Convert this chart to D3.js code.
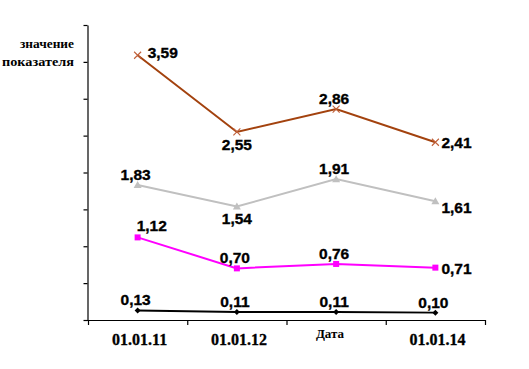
<!DOCTYPE html>
<html>
<head>
<meta charset="utf-8">
<script src="https://cdn.jsdelivr.net/npm/d3@7"></script>
<style>
html,body{margin:0;padding:0;background:#fff;}
svg{display:block;}
</style>
</head>
<body>
<svg id="chart" width="529" height="369"></svg>
<script>
// ---- data ----
const categories = ["01.01.11", "01.01.12", "01.01.13", "01.01.14"];
const tickLabels = ["01.01.11", "01.01.12", "", "01.01.14"];
const seriesBrown = [3.59, 2.55, 2.86, 2.41];
const seriesGray = [1.83, 1.54, 1.91, 1.61];
const seriesMagenta = [1.12, 0.70, 0.76, 0.71];
const seriesBlack = [0.13, 0.11, 0.11, 0.10];
const yTicks = [0, 0.5, 1, 1.5, 2, 2.5, 3, 3.5, 4];
const yTitle = ["значение", "показателя"];
const xTitle = "Дата";

// label placement per point (style, not data)
const placeBrown = ["rt", "b", "a", "r"];
const placeGray = ["a", "b", "a", "rb"];
const placeMagenta = ["ar", "a", "a", "r"];
const placeBlack = ["a", "a", "a", "a"];

const svg = d3.select("#chart");
const x = d3.scaleBand().domain(categories).range([88, 485]);
const y = d3.scaleLinear().domain([0, 4]).range([320, 25]);
const cx = d => x(d) + x.bandwidth() / 2;
const serif = "'Liberation Serif','Times New Roman',serif";

// axes
const yAxis = d3.axisLeft(y).tickValues(yTicks).tickFormat("").tickSizeInner(4).tickSizeOuter(0);
svg.append("g").attr("transform", "translate(87.5,0)").call(yAxis)
  .call(g => g.selectAll("path,line").attr("stroke", "#000").attr("stroke-width", 1.2));

const gx = svg.append("g");
gx.append("line").attr("x1", 84).attr("x2", x.range()[1]).attr("y1", 320.5).attr("y2", 320.5)
  .attr("stroke", "#000").attr("stroke-width", 1.2);
const bounds = categories.map(c => x(c)).concat([x.range()[1]]);
gx.selectAll("line.t").data(bounds).enter().append("line").attr("class", "t")
  .attr("x1", d => d + 0.5).attr("x2", d => d + 0.5).attr("y1", 320).attr("y2", 325)
  .attr("stroke", "#000").attr("stroke-width", 1.2);
gx.selectAll("text.cat").data(categories).enter().append("text").attr("class", "cat")
  .attr("x", d => cx(d) + 2).attr("y", 345)
  .attr("text-anchor", "middle")
  .attr("font-family", serif)
  .attr("font-weight", "bold").attr("font-size", 16)
  .attr("stroke", "#000").attr("stroke-width", 0.3)
  .text((d, i) => tickLabels[i]);

svg.append("text").attr("x", 330).attr("y", 338).attr("text-anchor", "middle")
  .attr("font-family", serif)
  .attr("font-weight", "bold").attr("font-size", 13).text(xTitle);

svg.selectAll("text.yt").data(yTitle).enter().append("text").attr("class", "yt")
  .attr("x", 74).attr("y", (d, i) => 48 + i * 18).attr("text-anchor", "end")
  .attr("font-family", serif)
  .attr("font-weight", "bold").attr("font-size", 12)
  .attr("textLength", (d, i) => i === 0 ? 54 : 72).attr("lengthAdjust", "spacingAndGlyphs")
  .text(d => d);

// series
const series = [
  {vals: seriesBrown, place: placeBrown, color: "#A3420E", marker: "x"},
  {vals: seriesGray, place: placeGray, color: "#C0C0C0", marker: "tri"},
  {vals: seriesMagenta, place: placeMagenta, color: "#FF00FF", marker: "sq"},
  {vals: seriesBlack, place: placeBlack, color: "#000000", marker: "dia"}
];

const line = d3.line().x((d, i) => cx(categories[i])).y(d => y(d));
const placeCfg = {
  a: {anchor: "middle", dx: -2, dy: -5},
  b: {anchor: "middle", dx: 0, dy: 18},
  r: {anchor: "start", dx: 6, dy: 6},
  rt: {anchor: "start", dx: 10, dy: 3},
  rb: {anchor: "start", dx: 6, dy: 12},
  ar: {anchor: "start", dx: -1, dy: -6}
};
const fmt = v => d3.format(".2f")(v).replace(".", ",");

series.forEach(s => {
  const g = svg.append("g");
  g.append("path").datum(s.vals).attr("d", line).attr("fill", "none")
    .attr("stroke", s.color).attr("stroke-width", 2);
  s.vals.forEach((v, i) => {
    const px = cx(categories[i]), py = y(v);
    if (s.marker === "x") {
      g.append("path").attr("d", `M${px-3.5},${py-3.5}L${px+3.5},${py+3.5}M${px-3.5},${py+3.5}L${px+3.5},${py-3.5}`)
        .attr("stroke", "#C0603A").attr("stroke-width", 1.1);
    } else if (s.marker === "tri") {
      g.append("path").attr("d", `M${px},${py-4}L${px+4},${py+3}L${px-4},${py+3}Z`).attr("fill", s.color);
    } else if (s.marker === "sq") {
      g.append("rect").attr("x", px - 3).attr("y", py - 3).attr("width", 6).attr("height", 6).attr("fill", s.color);
    } else {
      g.append("path").attr("d", `M${px},${py-3}L${px+3},${py}L${px},${py+3}L${px-3},${py}Z`).attr("fill", s.color);
    }
    const c = placeCfg[s.place[i]];
    g.append("text").attr("x", px + c.dx).attr("y", py + c.dy).attr("text-anchor", c.anchor)
      .attr("font-family", "'Liberation Sans',Arial,sans-serif").attr("font-weight", "bold")
      .attr("font-size", 15.5).attr("fill", "#000")
      .attr("stroke", "#000").attr("stroke-width", 0.35)
      .text(fmt(v));
  });
});
</script>
</body>
</html>
